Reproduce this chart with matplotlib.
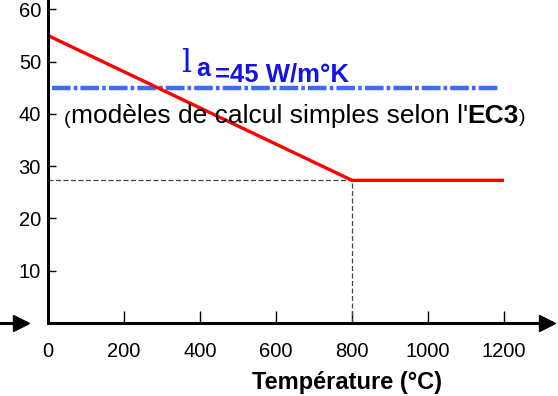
import numpy as np
import matplotlib.pyplot as plt

plt.rcParams['font.family'] = ['Liberation Sans', 'DejaVu Sans']

# conductivite thermique de l'acier (EC3)
temp = [0, 800, 1200]
lam = [55, 27.3, 27.3]
lam_simple = 45
blue_x = [10, 1185]
x_ticks = [0, 200, 400, 600, 800, 1000, 1200]
y_ticks = [10, 20, 30, 40, 50, 60]

W, H = 558, 396
fig = plt.figure(figsize=(W / 100, H / 100), dpi=100)
ax = fig.add_axes([48 / W, (H - 323) / H, (547 - 48) / W, 323 / H])
ax.set_xlim(0, (547 - 48) / 0.38)
ax.set_ylim(0, 61.8)

for s in ['top', 'right']:
    ax.spines[s].set_visible(False)
ax.spines['left'].set_linewidth(2.2)
ax.spines['bottom'].set_linewidth(2.2)
ax.plot(1, 0, marker='>', color='k', markersize=11, transform=ax.transAxes, clip_on=False)

ax.set_xticks(x_ticks)
ax.set_yticks(y_ticks)
ax.tick_params(axis='x', direction='in', length=9, width=1, pad=14, labelsize=14.5)
ax.tick_params(axis='y', direction='in', length=6, width=1, pad=5, labelsize=14.5)

# valeur constante (modele simple)
ax.plot(blue_x, [lam_simple, lam_simple], color='#3d6bf5', lw=3.2,
        dashes=[4.2, 0.7, 0.8, 0.7], dash_capstyle='butt')

# lignes de rappel
ax.plot([0, temp[1]], [lam[1], lam[1]], color='#444444', lw=0.9, dashes=[4, 2])
ax.plot([temp[1], temp[1]], [0, lam[1]], color='#444444', lw=0.9, dashes=[4, 2])

# courbe EC3
ax.plot(temp, lam, color='#ff0000', lw=2.4, solid_capstyle='butt')

# textes
ax.text(350, 48.0, 'l', color='#1414e6', fontsize=23, family='DejaVu Serif', ha='left', va='baseline')
ax.text(390, 47.2, 'a', color='#1414e6', fontsize=18, fontweight='bold', ha='left', va='baseline')
ax.text(440, 46.2, '=45 W/m°K', color='#1414e6', fontsize=18.5, fontweight='bold', ha='left', va='baseline')

t1 = ax.text(42, 38.0, '(', fontsize=14, ha='left', va='baseline')
t2 = ax.annotate("modèles de calcul simples selon l'", xy=(1, 0.05), xycoords=t1,
                 fontsize=19, ha='left', va='bottom')
t3 = ax.annotate('EC3', xy=(1, 0), xycoords=t2, fontsize=19, fontweight='bold',
                 ha='left', va='bottom')
ax.annotate(')', xy=(1, 0.05), xycoords=t3, fontsize=14, ha='left', va='bottom')

fig.text(347 / W, 1 - 382 / H, 'Température (°C)', fontsize=17, fontweight='bold', ha='center', va='center')

# petite fleche a gauche
fig.add_artist(plt.Line2D([0, 20 / W], [(H - 323) / H] * 2, color='k', lw=2.2))
fig.add_artist(plt.Line2D([21 / W], [(H - 323) / H], marker='>', color='k', markersize=11))

plt.savefig('out.png', dpi=100)
